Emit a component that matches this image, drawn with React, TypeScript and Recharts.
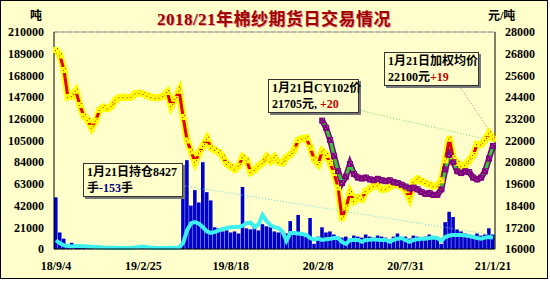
import React from "react";
import {
  ComposedChart,
  Bar,
  Line,
  XAxis,
  YAxis,
  CartesianGrid,
  ReferenceLine,
} from "recharts";

// x axis: one point per ~5 trading days, labels at fixed indices
const dateLabels = ["18/9/4", "19/2/25", "19/8/18", "20/2/8", "20/7/31", "21/1/21"];
const dateTickIndex = [0, 22, 44, 66, 88, 110];

const leftTicks = [0, 21000, 42000, 63000, 84000, 105000, 126000, 147000, 168000, 189000, 210000];
const rightTicks = [16000, 17200, 18400, 19600, 20800, 22000, 23200, 24400, 25600, 26800, 28000];

// weighted average price, yuan/ton (right axis)
const avgPrice = [
  27000, 26700, 25900, 24400, 24450, 24750, 23960, 23350, 23130, 22700,
  23100, 23690, 23850, 23750, 23900, 24250, 24380, 24400, 24380, 24400,
  24600, 24620, 24570, 24480, 24400, 24350, 24380, 24450, 24680, 23900,
  24300, 24750, 23300, 22000, 21400, 20810, 21300, 21700, 22100, 21600,
  21470, 21350, 21100, 20700, 20560, 20400, 20600, 21080, 20900, 20250,
  20370, 20600, 20750, 21100, 20850, 21090, 20800, 20750, 21070, 21200,
  21500, 22030, 22100, 22150, 21600, 20950, 20700, 21400, 21200, 20760,
  20200, 19400, 17700, 18300, 19100, 18650, 18850, 18750, 19200, 19350,
  19480, 19520, 19300, 19320, 19450, 19540, 19540, 19450, 19250, 18820,
  19700, 19880, 19750, 19650, 19560, 19470, 19500, 19800, 20900, 22100,
  21030, 20760, 20580, 20650, 20900, 21200, 21800, 21780, 22030, 22400, 22100,
];

// CY102 contract price, starts at index 67
const cyStart = 67;
const cyPrice = [
  23100, 22700, 22030, 21150, 20300, 19650, 20000, 20700, 20150, 19950,
  19900, 19950, 19850, 19800, 19880, 19800, 19750, 19800, 19700, 19650,
  19550, 19450, 19350, 19400, 19300, 19150, 19050, 19100, 18990, 19000,
  19300, 20400, 21200, 20800, 20300, 20200, 20300, 20250, 19950, 19850,
  19950, 20300, 21000, 21700,
];

// volume, tons (left axis)
const volume = [
  50000, 16000, 10000, 4000, 6000, 2500, 1500, 3000, 2000, 1500,
  2000, 1200, 1500, 1000, 1200, 800, 1000, 1200, 900, 1000,
  1500, 1000, 1200, 800, 1000, 900, 1100, 800, 1000, 900,
  1000, 1200, 60000, 86000, 42000, 57000, 45000, 84000, 55000, 47000,
  21000, 20000, 17000, 18000, 16000, 17000, 15000, 60000, 20000, 19000,
  22000, 18000, 24000, 22000, 21000, 17000, 16000, 18000, 15000, 27000,
  16000, 33000, 13000, 12000, 30000, 5000, 12000, 21000, 16000, 17000,
  14000, 12000, 11000, 12000, 9000, 13000, 12000, 11000, 14000, 12000,
  11000, 13000, 12000, 11000, 9000, 12000, 15000, 11000, 12000, 10000,
  13000, 12000, 11000, 12000, 14000, 12000, 11000, 5000, 26000, 36000,
  31000, 19000, 17000, 15000, 14000, 13000, 15000, 13000, 14000, 20000, 14000,
];

// open interest, tons (left axis)
const openInterest = [
  8500, 5500, 3500, 2800, 2500, 2900, 2900, 2700, 2500, 2200,
  2000, 1800, 1500, 1300, 1200, 1100, 1000, 1000, 1000, 1100,
  1500, 2000, 2500, 1800, 1300, 1100, 1000, 1000, 1000, 1100,
  1200, 1500, 6000, 18000, 25000, 26000, 24500, 21000, 17000, 15500,
  16500, 18000, 19500, 20300, 21000, 21300, 21300, 22500, 25000, 25500,
  21300, 24000, 32900, 27000, 23000, 21000, 20300, 17000, 8000, 15500,
  15500, 15000, 14500, 13500, 10600, 9000, 10000, 8700, 9500, 10000,
  10600, 10600, 6800, 5000, 8700, 9000, 8700, 7000, 8700, 9000,
  9500, 9000, 8700, 8700, 7000, 9000, 10000, 10600, 8500, 7000,
  8700, 9500, 10000, 10000, 10600, 11000, 10600, 8000, 11600, 13000,
  13500, 13500, 13500, 13000, 12500, 11600, 10600, 10000, 11000, 11600, 11000,
];

const data = avgPrice.map((p, i) => ({
  i,
  price: p,
  cy102: i >= cyStart ? cyPrice[i - cyStart] : null,
  vol: volume[i],
  oi: openInterest[i],
}));

const BG = "#FFFFCC";
const FONT = "'Liberation Serif', 'Noto Sans CJK SC', serif";
const tickStyle = { fill: "#000", fontSize: 12, fontWeight: 700, fontFamily: FONT };

function priceDot(props: any) {
  const { cx, cy, index } = props;
  if (cx == null || cy == null || props.value == null) return <g key={`pd${index}`} />;
  return (
    <g key={`pd${index}`}>
      <rect x={cx - 3} y={cy - 3} width={6} height={6} fill="#FFFF00" />
      <rect x={cx - 1} y={cy} width={1} height={1} fill="#E00000" />
      <rect x={cx + 1} y={cy - 2} width={1} height={1} fill="#E00000" />
    </g>
  );
}

function cyDot(props: any) {
  const { cx, cy, index } = props;
  if (cx == null || cy == null || props.value == null) return <g key={`cd${index}`} />;
  return (
    <g key={`cd${index}`}>
      <rect x={cx - 3} y={cy - 3} width={6} height={6} fill="#800080" />
      <rect x={cx - 1} y={cy} width={1} height={1} fill="#8C8C8C" />
      <rect x={cx + 1} y={cy - 2} width={1} height={1} fill="#8C8C8C" />
    </g>
  );
}

const boxStyle: React.CSSProperties = {
  position: "absolute",
  border: "1px solid #333",
  background: BG,
  boxShadow: "2px 2px 0 #777",
  font: `bold 12px ${FONT}`,
  lineHeight: "16px",
  padding: "0 3px",
  whiteSpace: "nowrap",
  color: "#000",
};

export default function App() {
  return (
    <div style={{ position: "absolute", left: 0, top: 0, width: 548, height: 279, background: BG }}>
      <div
        style={{
          position: "absolute",
          left: 0,
          top: 5,
          width: 548,
          textAlign: "center",
          font: `bold 17px ${FONT}`,
          color: "#A00000",
          textShadow: "1px 1px 0 #E8A0A0",
          letterSpacing: 0.5,
        }}
      >
        2018/21年棉纱期货日交易情况
      </div>
      <div style={{ position: "absolute", left: 30, top: 6, font: `bold 12px ${FONT}` }}>吨</div>
      <div style={{ position: "absolute", left: 488, top: 6, font: `bold 12px ${FONT}` }}>元/吨</div>

      <ComposedChart
        width={548}
        height={279}
        data={data}
        margin={{ top: 32, right: 0, bottom: 0, left: 0 }}
        barCategoryGap={0}
        barGap={0}
      >
        <CartesianGrid vertical={false} stroke="#A0A0A0" strokeDasharray="4 3" />
        <XAxis
          dataKey="i"
          type="category"
          ticks={dateTickIndex}
          interval={0}
          tickFormatter={(v: number) => dateLabels[dateTickIndex.indexOf(v)] ?? ""}
          tick={tickStyle}
          tickLine={false}
          tickSize={6}
          tickMargin={6}
          height={30}
          stroke="#000"
        />
        <YAxis
          yAxisId="l"
          domain={[0, 210000]}
          ticks={leftTicks}
          interval={0}
          width={54}
          tick={tickStyle}
          tickLine={false}
          tickSize={6}
          tickMargin={4}
          stroke="#000"
        />
        <YAxis
          yAxisId="r"
          orientation="right"
          domain={[16000, 28000]}
          ticks={rightTicks}
          interval={0}
          width={53}
          tick={tickStyle}
          tickLine={false}
          tickSize={6}
          tickMargin={4}
          stroke="#000"
        />
        <ReferenceLine yAxisId="l" y={210000} stroke="#A0A0A0" />
        <Bar yAxisId="l" dataKey="vol" fill="#0000CC" barSize={5} isAnimationActive={false} />
        <Line
          yAxisId="l"
          dataKey="oi"
          stroke="#3CF0F0"
          strokeWidth={4}
          dot={false}
          isAnimationActive={false}
        />
        {/* yellow band under the average price */}
        <Line
          yAxisId="r"
          dataKey="price"
          stroke="#FFFF00"
          strokeWidth={7}
          dot={false}
          legendType="none"
          isAnimationActive={false}
        />
        <Line
          yAxisId="r"
          dataKey="price"
          stroke="#E00000"
          strokeWidth={3}
          dot={priceDot}
          isAnimationActive={false}
        />
        {/* purple band under the CY102 price */}
        <Line
          yAxisId="r"
          dataKey="cy102"
          stroke="#800080"
          strokeWidth={6}
          dot={false}
          legendType="none"
          isAnimationActive={false}
        />
        <Line
          yAxisId="r"
          dataKey="cy102"
          stroke="#33CC33"
          strokeWidth={3}
          dot={cyDot}
          connectNulls={false}
          isAnimationActive={false}
        />
        <ReferenceLine
          yAxisId="l"
          segment={[{ x: 31, y: 61900 }, { x: 110, y: 13500 }]}
          stroke="#60E0E0"
          strokeDasharray="1 2"
          ifOverflow="visible"
        />
        <ReferenceLine
          yAxisId="r"
          segment={[{ x: 76, y: 23690 }, { x: 109, y: 22030 }]}
          stroke="#66DD66"
          strokeDasharray="1 2"
          ifOverflow="visible"
        />
        <ReferenceLine
          yAxisId="r"
          segment={[{ x: 101, y: 25180 }, { x: 109, y: 22580 }]}
          stroke="#E06060"
          strokeDasharray="1 2"
          ifOverflow="visible"
        />
      </ComposedChart>

      <div style={{ ...boxStyle, left: 83, top: 163, width: 92 }}>
        1月21日持仓8427
        <br />
        手<span style={{ color: "#000080" }}>-153</span>手
      </div>
      <div style={{ ...boxStyle, left: 268, top: 79, width: 83 }}>
        1月21日CY102价
        <br />
        21705元, <span style={{ color: "#C00000" }}>+20</span>
      </div>
      <div style={{ ...boxStyle, left: 384, top: 52, width: 87 }}>
        1月21日加权均价
        <br />
        22100元<span style={{ color: "#C00000" }}>+19</span>
      </div>

      <div
        style={{
          position: "absolute",
          left: 0,
          top: 0,
          width: 548,
          height: 279,
          boxSizing: "border-box",
          border: "1px solid #000",
          pointerEvents: "none",
        }}
      />
    </div>
  );
}
